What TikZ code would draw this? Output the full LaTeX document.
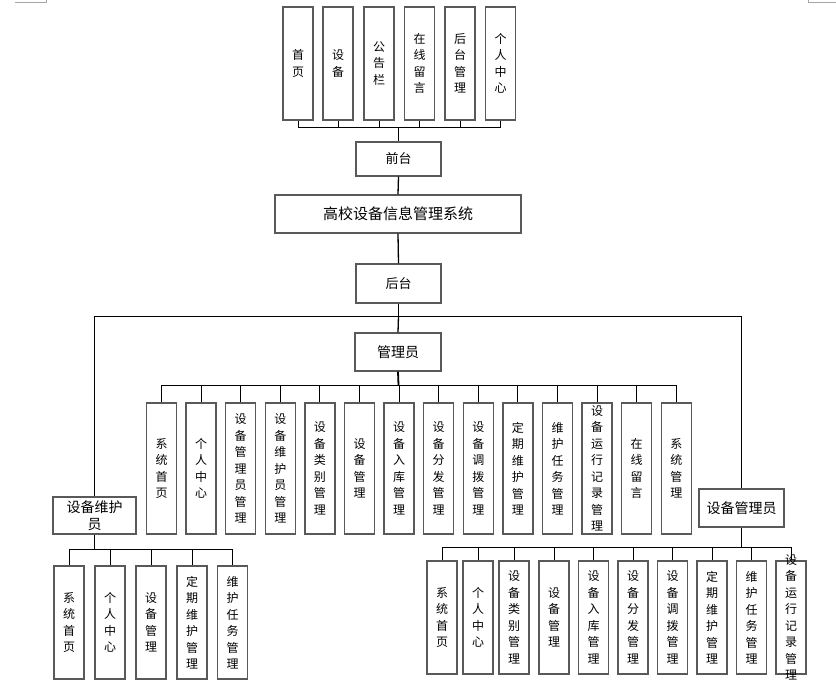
\documentclass[tikz,border=0pt]{standalone}
\usepackage{fontspec}
\setmainfont{Noto Sans CJK SC}
\begin{document}
\begin{tikzpicture}[x=1pt,y=-1pt,
  box/.style={draw=black!65,line width=1.4pt,fill=white,inner sep=0pt,align=center},
  vbox/.style={box,minimum width=30pt,font=\fontsize{12}{16.5}\selectfont},
  hbox/.style={box,font=\fontsize{13}{17}\selectfont},
  vtext/.style={inner sep=0pt,align=center,font=\fontsize{12}{16.5}\selectfont},
  conn/.style={draw=black,line width=0.9pt},
  trunk/.style={draw=black,line width=1.8pt},
  cornermark/.style={draw=black!35,line width=0.8pt}]
\useasboundingbox (0,0) rectangle (836,681);
% corner marks
\draw[cornermark] (15,2.5) -- (46,2.5) -- (46,0);
\draw[cornermark] (808,0) -- (808,2.5) -- (836,2.5);
% top row
\foreach \n/\x/\t in {t1/298/首\\页, t2/338/设\\备, t3/379/公\\告\\栏, t4/419.5/在\\线\\留\\言, t5/460/后\\台\\管\\理, t6/500.5/个\\人\\中\\心}
  \node[vbox,minimum height=113pt] (\n) at (\x,63.5) {\t};
\node[hbox,minimum width=85pt,minimum height=34pt] (qt) at (398.5,159) {前台};
\node[hbox,minimum width=246pt,minimum height=38pt,font=\fontsize{15}{18}\selectfont] (sys) at (398,214) {高校设备信息管理系统};
\node[hbox,minimum width=85pt,minimum height=39pt] (ht) at (398.5,283.5) {后台};
\node[hbox,minimum width=86pt,minimum height=38pt,font=\fontsize{14}{17}\selectfont] (gly) at (398,352) {管理员};
\node[hbox,minimum width=83pt,minimum height=37pt,font=\fontsize{14}{17}\selectfont] (wh) at (94.5,515.5) {设备维护\\员};
\node[hbox,minimum width=85pt,minimum height=38pt,font=\fontsize{14}{17}\selectfont] (gl) at (741.5,508) {设备管理员};
% admin row
\foreach \n/\i/\t in {a1/0/系\\统\\首\\页, a2/1/个\\人\\中\\心, a3/2/设\\备\\管\\理\\员\\管\\理, a4/3/设\\备\\维\\护\\员\\管\\理, a5/4/设\\备\\类\\别\\管\\理, a6/5/设\\备\\管\\理, a7/6/设\\备\\入\\库\\管\\理, a8/7/设\\备\\分\\发\\管\\理, a9/8/设\\备\\调\\拨\\管\\理, a10/9/定\\期\\维\\护\\管\\理, a11/10/维\\护\\任\\务\\管\\理, a12/11/设\\备\\运\\行\\记\\录\\管\\理, a13/12/在\\线\\留\\言, a14/13/系\\统\\管\\理}
  \node[vbox,minimum height=131pt] (\n) at (161.5+39.6*\i,468.5) {\t};
% maintainer row
\foreach \n/\x/\t in {m1/69/系\\统\\首\\页, m2/110/个\\人\\中\\心, m3/151/设\\备\\管\\理, m4/192/定\\期\\维\\护\\管\\理, m5/232.5/维\\护\\任\\务\\管\\理}
  \node[vbox,minimum height=113pt] (\n) at (\x,622.5) {\t};
% manager row
\foreach \n/\x/\t in {g1/442/系\\统\\首\\页, g2/478/个\\人\\中\\心, g3/514/设\\备\\类\\别\\管\\理, g4/554/设\\备\\管\\理, g5/593.5/设\\备\\入\\库\\管\\理, g6/633/设\\备\\分\\发\\管\\理, g7/672.5/设\\备\\调\\拨\\管\\理, g8/712/定\\期\\维\\护\\管\\理, g9/751.5/维\\护\\任\\务\\管\\理}
  \node[vbox,minimum height=113pt] (\n) at (\x,617.5) {\t};
% last box: fixed size, text overflows it
\node[vbox,minimum height=113pt] (g10) at (791,617.5) {};
\node[vtext] (g10t) at (g10.center) {设\\备\\运\\行\\记\\录\\管\\理};
% junction coordinates
\coordinate (b1) at (398.5,127);
\coordinate (j) at (398.5,316);
\coordinate (b2) at (398.5,385);
\coordinate (b3) at (94.5,549);
\coordinate (b4) at (741.5,547);
% connectors
\foreach \n in {t1,t2,t3,t4,t5,t6} \draw[conn] (\n.south) |- (b1);
\draw[trunk] (b1) -- (qt.north);
\draw[conn,line width=1.3pt] (qt.south) -- (sys.north);
\draw[conn,line width=1.3pt] (sys.south) -- (ht.north);
\draw[trunk] (ht.south) -- (j);
\draw[conn,line width=1.3pt] (j) -- (gly.north);
\draw[conn] (j) -| (wh.north);
\draw[conn] (j) -| (gl.north);
\foreach \n in {a1,a2,a3,a4,a5,a6,a7,a8,a9,a10,a11,a12,a13,a14} \draw[conn] (\n.north) |- (b2);
\draw[trunk] (gly.south) -- (b2);
\foreach \n in {m1,m2,m3,m4,m5} \draw[conn] (\n.north) |- (b3);
\draw[trunk] (wh.south) -- (b3);
\foreach \n in {g1,g2,g3,g4,g5,g6,g7,g8,g9,g10} \draw[conn] (\n.north) |- (b4);
\draw[trunk] (gl.south) -- (b4);
\end{tikzpicture}
\end{document}
